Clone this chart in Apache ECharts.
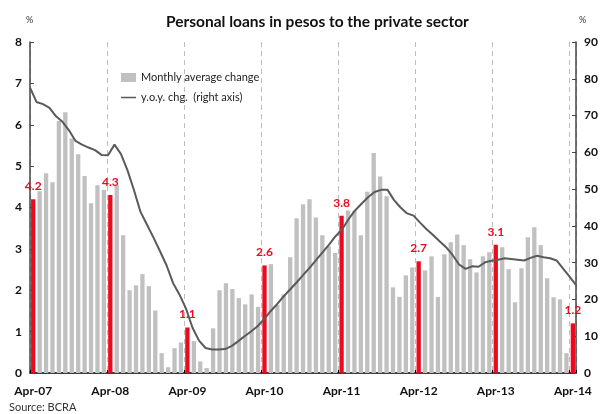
<!DOCTYPE html>
<html>
<head>
<meta charset="utf-8">
<script src="https://cdn.jsdelivr.net/npm/echarts@6/dist/echarts.min.js"></script>
<style>
  html, body { margin: 0; padding: 0; background: #fff; }
  #chart { width: 601px; height: 414px; }
</style>
</head>
<body>
<div id="chart"></div>
<script>
// monthly categories Apr-07 .. Apr-14
const monthNames = ['Jan', 'Feb', 'Mar', 'Apr', 'May', 'Jun', 'Jul', 'Aug', 'Sep', 'Oct', 'Nov', 'Dec'];
const months = [];
for (let y = 2007, m = 3; months.length < 85; m++) {
  if (m === 12) { m = 0; y++; }
  months.push(monthNames[m] + '-' + String(y).slice(2));
}

// monthly average change, % (left axis)
const monthlyChange = [
  4.2, 4.39, 4.83, 4.61, 6.09, 6.30, 5.67, 5.29, 4.76, 4.10, 4.54, 4.42,
  4.3, 4.54, 3.33, 2.00, 2.12, 2.39, 2.10, 1.51, 0.48, 0.14, 0.60, 0.74,
  1.1, 0.77, 0.28, 0.12, 1.08, 2.00, 2.17, 2.03, 1.81, 1.66, 1.90, 1.60,
  2.6, 2.63, 1.65, 1.90, 2.80, 3.74, 4.08, 4.20, 3.76, 3.33, 3.06, 2.90,
  3.8, 3.93, 3.92, 3.33, 4.38, 5.32, 4.75, 4.27, 2.07, 1.84, 2.36, 2.55,
  2.7, 2.48, 2.82, 1.84, 2.87, 3.16, 3.35, 3.09, 2.75, 2.43, 2.82, 2.92,
  3.1, 3.04, 2.51, 1.71, 2.53, 3.28, 3.52, 3.09, 2.29, 1.83, 1.78, 0.48,
  1.2
];

// y.o.y. change, % (right axis)
const yoyChange = [
  77.6, 73.7, 73.1, 72.1, 69.8, 68.3, 66.0, 63.1, 62.1, 61.3, 60.6, 59.3,
  59.2, 62.1, 59.5, 55.1, 49.7, 43.8, 40.3, 36.8, 33.1, 29.3, 24.5, 21.3,
  17.5, 12.3, 8.8, 6.8, 6.4, 6.4, 6.5, 7.3, 8.6, 10.0, 11.3, 12.7,
  14.6, 16.8, 18.7, 20.8, 22.7, 24.6, 26.6, 28.6, 30.7, 32.8, 34.9, 37.2,
  39.0, 41.8, 44.2, 46.0, 47.8, 49.2, 49.8, 49.8, 47.0, 45.0, 43.4, 42.8,
  40.9, 39.1, 37.5, 35.8, 34.2, 32.1, 29.5, 28.3, 29.0, 28.9, 30.1, 30.5,
  30.8, 31.2, 31.0, 30.8, 30.6, 31.3, 31.9, 31.5, 31.2, 30.6, 28.4, 26.2,
  23.9
];

const FONT = 'Lato';
const RED = '#ee0a1e';
const GREY = '#c0c0c0';
const LINE = '#5a5a5a';
// thin bar in the middle of a 15x9 box (the specks keep the box size)
const LINE_ICON = 'path://M0,0L0.01,0L0.01,0.01ZM0,3.7L15,3.7L15,5.3L0,5.3ZM0,9L0.01,9L0.01,8.99Z';

const chart = echarts.init(document.getElementById('chart'));

const barData = monthlyChange.map((v, i) =>
{
  if (i % 12 !== 0) return v;
  return { value: v, itemStyle: { color: RED }, label: { show: true } };
});

chart.setOption({
  animation: false,
  textStyle: { fontFamily: FONT },
  title: {
    text: 'Personal loans in pesos to the private sector',
    left: 161,
    top: 9,
    textStyle: { fontSize: 15.5, fontWeight: 'bold', color: '#111', fontFamily: FONT }
  },
  legend: {
    orient: 'vertical',
    left: 116,
    top: 67,
    itemWidth: 15,
    itemHeight: 9,
    itemGap: 9,
    textStyle: { fontSize: 11, color: '#222', fontFamily: FONT },
    data: [
      { name: 'Monthly average change', icon: 'rect', itemStyle: { color: GREY } },
      { name: 'y.o.y. chg.  (right axis)', icon: LINE_ICON, itemStyle: { color: LINE } }
    ]
  },
  grid: { left: 30, right: 21, top: 42, bottom: 41, containLabel: false },
  xAxis: [
    {
      type: 'category',
      data: months,
      boundaryGap: true,
      axisLine: { lineStyle: { color: '#000', width: 1.5 } },
      axisTick: { show: true, inside: true, length: 3, interval: 11, lineStyle: { color: '#000' } },
      axisLabel: {
        interval: 11,
        margin: 12,
        fontSize: 12,
        fontWeight: 'bold',
        color: '#111',
        fontFamily: FONT
      },
      splitLine: {
        show: true,
        interval: 11,
        lineStyle: { color: '#bdbdbd', type: [5, 4], width: 1 }
      }
    },
    {
      type: 'category',
      data: months,
      boundaryGap: false,
      show: false
    }
  ],
  yAxis: [
    {
      type: 'value',
      min: 0,
      max: 8,
      interval: 1,
      axisLine: { show: true, lineStyle: { color: '#444', width: 1.5 } },
      axisTick: { show: true, inside: true, length: 4, lineStyle: { color: '#444' } },
      axisLabel: { fontSize: 12, fontWeight: 'bold', color: '#111', margin: 8, fontFamily: FONT },
      splitLine: { show: false }
    },
    {
      type: 'value',
      min: 0,
      max: 90,
      interval: 10,
      position: 'right',
      axisLine: { show: true, lineStyle: { color: '#444', width: 1.5 } },
      axisTick: { show: true, inside: true, length: 4, lineStyle: { color: '#444' } },
      axisLabel: { fontSize: 12, fontWeight: 'bold', color: '#111', margin: 8, fontFamily: FONT },
      splitLine: { show: false }
    }
  ],
  graphic: [
    { type: 'text', left: 26, top: 16, style: { text: '%', fontSize: 9, fill: '#333', fontFamily: FONT } },
    { type: 'text', left: 579, top: 16, style: { text: '%', fontSize: 9, fill: '#333', fontFamily: FONT } },
    { type: 'text', left: 9, top: 402, style: { text: 'Source: BCRA', fontSize: 11, fill: '#333', fontFamily: FONT } }
  ],
  series: [
    {
      name: 'Monthly average change',
      type: 'bar',
      xAxisIndex: 0,
      yAxisIndex: 0,
      barWidth: 4.3,
      itemStyle: { color: GREY },
      label: {
        show: false,
        position: 'top',
        distance: 7,
        color: RED,
        fontSize: 12,
        fontWeight: 'bold',
        fontFamily: FONT,
        formatter: p => p.value.toFixed(1)
      },
      data: barData
    },
    {
      name: 'y.o.y. chg.  (right axis)',
      type: 'line',
      xAxisIndex: 1,
      yAxisIndex: 1,
      symbol: 'none',
      lineStyle: { color: LINE, width: 2 },
      itemStyle: { color: LINE },
      data: yoyChange,
      z: 5
    }
  ]
});
</script>
</body>
</html>
